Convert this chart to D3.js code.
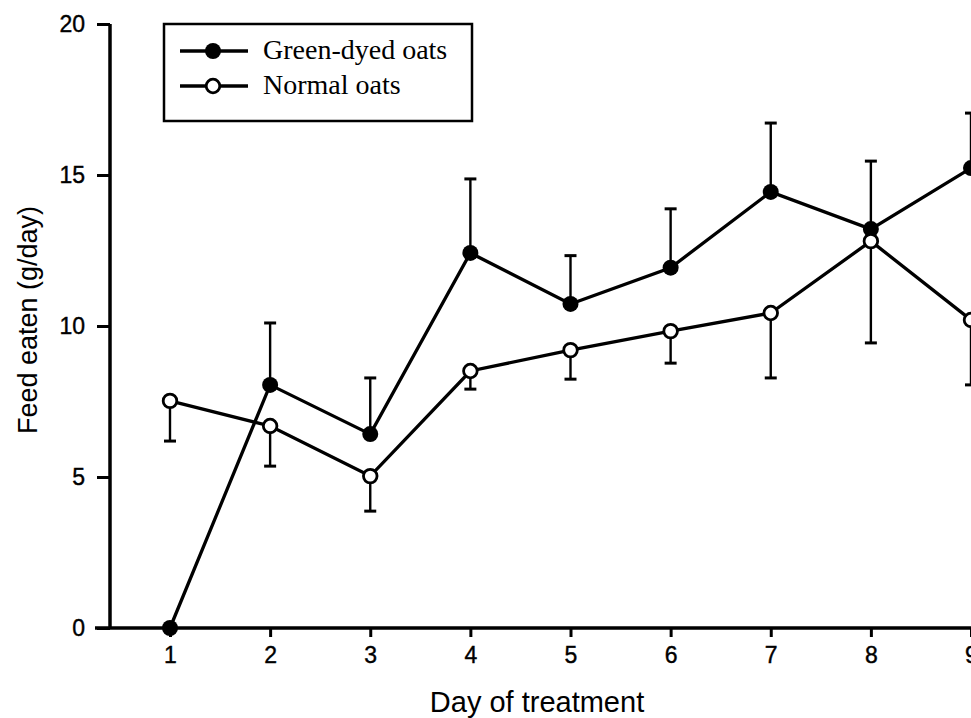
<!DOCTYPE html>
<html>
<head>
<meta charset="utf-8">
<script src="https://cdn.jsdelivr.net/npm/d3@7"></script>
<style>
  html, body { margin: 0; padding: 0; background: #fff; overflow: hidden; }
  svg { display: block; }
</style>
</head>
<body>
<svg id="chart" width="971" height="718"></svg>
<script>
// ---- data ----
const days = [1, 2, 3, 4, 5, 6, 7, 8, 9];
const greenMean = [0, 8.05, 6.42, 12.42, 10.73, 11.93, 14.44, 13.21, 15.23];
const greenErr  = [0, 2.05, 1.86, 2.45, 1.6, 1.95, 2.28, 2.25, 1.82];   // drawn upward
const normalMean = [7.52, 6.69, 5.03, 8.51, 9.2, 9.83, 10.43, 12.81, 10.2];
const normalErr  = [1.33, 1.33, 1.16, 0.6, 0.96, 1.06, 2.15, 3.37, 2.15]; // drawn downward
const yTicks = [0, 5, 10, 15, 20];
const seriesNames = ["Green-dyed oats", "Normal oats"];

const svg = d3.select("#chart");
const x = d3.scaleLinear().domain([1, 9]).range([170, 971]);
const y = d3.scaleLinear().domain([0, 20]).range([628, 24]);
const sansFont = "'Liberation Sans', Arial, Helvetica, sans-serif";
const serifFont = "'Liberation Serif', 'Times New Roman', serif";

// y axis
const yAxis = svg.append("g").attr("transform", "translate(110,0)")
  .call(d3.axisLeft(y).tickValues(yTicks).tickSize(13).tickPadding(12).tickFormat(d3.format("d")));
yAxis.select(".domain").attr("d", `M0,${y(20)}V${y(0)}`).attr("stroke", "#000").attr("stroke-width", 3.5);
yAxis.selectAll(".tick line").attr("stroke", "#000").attr("stroke-width", 3);
yAxis.selectAll(".tick text").attr("font-family", sansFont).attr("font-size", 23)
  .attr("fill", "#000").attr("stroke", "#000").attr("stroke-width", 0.4);

// x axis
const xAxis = svg.append("g").attr("transform", `translate(0,${y(0)})`)
  .call(d3.axisBottom(x).tickValues(days).tickSize(9).tickPadding(10).tickFormat(d3.format("d")));
xAxis.select(".domain").attr("d", "M95,0H971").attr("stroke", "#000").attr("stroke-width", 3.5);
xAxis.selectAll(".tick line").attr("stroke", "#000").attr("stroke-width", 3);
xAxis.selectAll(".tick text").attr("font-family", sansFont).attr("font-size", 23)
  .attr("fill", "#000").attr("stroke", "#000").attr("stroke-width", 0.4);

// axis titles
svg.append("text").attr("x", 537).attr("y", 712).attr("text-anchor", "middle")
  .attr("font-family", sansFont).attr("font-size", 29).attr("fill", "#000").text("Day of treatment");
svg.append("text").attr("transform", "translate(37,320) rotate(-90)").attr("text-anchor", "middle")
  .attr("font-family", sansFont).attr("font-size", 27).attr("fill", "#000").text("Feed eaten (g/day)");

const capW = 6;
// error bars
function errBars(mean, err, dir) {
  const g = svg.append("g").attr("stroke", "#000").attr("stroke-width", 2.4);
  days.forEach((d, i) => {
    if (err[i] <= 0) return;
    const end = mean[i] + dir * err[i];
    g.append("line").attr("x1", x(d)).attr("x2", x(d)).attr("y1", y(mean[i])).attr("y2", y(end));
    g.append("line").attr("x1", x(d) - capW).attr("x2", x(d) + capW).attr("y1", y(end)).attr("y2", y(end)).attr("stroke-width", 3);
  });
}
errBars(greenMean, greenErr, 1);
errBars(normalMean, normalErr, -1);

const line = d3.line().x(d => x(d[0])).y(d => y(d[1]));
const greenPts = days.map((d, i) => [d, greenMean[i]]);
const normalPts = days.map((d, i) => [d, normalMean[i]]);

svg.append("path").datum(normalPts).attr("d", line).attr("fill", "none").attr("stroke", "#000").attr("stroke-width", 3.3);
svg.append("path").datum(greenPts).attr("d", line).attr("fill", "none").attr("stroke", "#000").attr("stroke-width", 3.3);

svg.append("g").selectAll("circle").data(greenPts).join("circle")
  .attr("cx", d => x(d[0])).attr("cy", d => y(d[1])).attr("r", 8).attr("fill", "#000");
svg.append("g").selectAll("circle").data(normalPts).join("circle")
  .attr("cx", d => x(d[0])).attr("cy", d => y(d[1])).attr("r", 6.8)
  .attr("fill", "#fff").attr("stroke", "#000").attr("stroke-width", 2.8);

// legend
const lg = svg.append("g");
lg.append("rect").attr("x", 164).attr("y", 24).attr("width", 308).attr("height", 97)
  .attr("fill", "#fff").attr("stroke", "#000").attr("stroke-width", 2.5);
seriesNames.forEach((name, i) => {
  const cy = 51 + i * 35;
  lg.append("line").attr("x1", 180).attr("x2", 248).attr("y1", cy).attr("y2", cy)
    .attr("stroke", "#000").attr("stroke-width", 3.3);
  lg.append("circle").attr("cx", 213).attr("cy", cy).attr("r", i === 0 ? 8 : 6.8)
    .attr("fill", i === 0 ? "#000" : "#fff").attr("stroke", "#000").attr("stroke-width", i === 0 ? 0 : 2.8);
  lg.append("text").attr("x", 263).attr("y", cy + 8).attr("font-family", serifFont)
    .attr("font-size", 28).attr("fill", "#000").text(name);
});
</script>
</body>
</html>
